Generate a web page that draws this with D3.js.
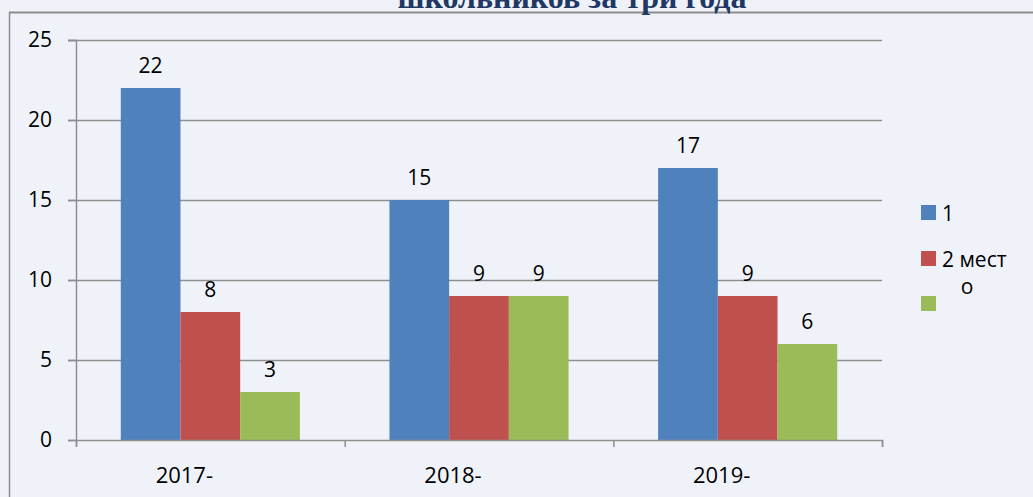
<!DOCTYPE html>
<html>
<head>
<meta charset="utf-8">
<script src="https://cdn.jsdelivr.net/npm/d3@7"></script>
<style>
  html, body { margin: 0; padding: 0; background: #eff3f9; }
  svg { display: block; }
</style>
</head>
<body>
<div id="chart"></div>
<script>
const years = ["2017-", "2018-", "2019-"];
const seriesNames = ["1", "2 мест", "3"];
const seriesColors = ["#4f81bd", "#c0504d", "#9bbb59"];
const place1 = [22, 15, 17];
const place2 = [8, 9, 9];
const place3 = [3, 9, 6];
const yTicks = [0, 5, 10, 15, 20, 25];
const titleText = "школьников за три года";

const width = 1033, height = 497;
const margin = {top: 40, right: 151, bottom: 57, left: 76};
const innerWidth = width - margin.left - margin.right;
const innerHeight = height - margin.top - margin.bottom;

const svg = d3.select("#chart")
    .append("svg")
    .attr("width", width)
    .attr("height", height);

svg.append("rect")
    .attr("width", width)
    .attr("height", height)
    .attr("fill", "#eff3f9");

// frame (top + left visible)
svg.append("line")
    .attr("x1", 9).attr("x2", width)
    .attr("y1", 12.5).attr("y2", 12.5)
    .attr("stroke", "#8c8c8c").attr("stroke-width", 2);
svg.append("line")
    .attr("x1", 9.5).attr("x2", 9.5)
    .attr("y1", 12).attr("y2", height)
    .attr("stroke", "#8c8c8c").attr("stroke-width", 1.5);

svg.append("text")
    .attr("x", 572)
    .attr("y", 8)
    .attr("text-anchor", "middle")
    .style("font-family", "'Liberation Serif', 'Times New Roman', serif")
    .style("font-weight", "bold")
    .style("font-size", "32px")
    .style("fill", "#1f3864")
    .text(titleText);

const g = svg.append("g")
    .attr("transform", `translate(${margin.left},${margin.top})`);

const data = years.map((y, i) => ({
    year: y,
    values: [place1[i], place2[i], place3[i]]
}));

const x0 = d3.scaleBand()
    .domain(years)
    .range([0, innerWidth])
    .paddingInner(0)
    .paddingOuter(0);

const x1 = d3.scaleBand()
    .domain([0, 1, 2])
    .range([0, x0.bandwidth()])
    .paddingInner(0)
    .paddingOuter(0.75);

const y = d3.scaleLinear()
    .domain([0, 25])
    .range([innerHeight, 0]);

// gridlines
g.selectAll(".grid")
    .data(yTicks.filter(t => t > 0))
    .enter()
    .append("line")
    .attr("x1", -8)
    .attr("x2", innerWidth)
    .attr("y1", d => Math.round(y(d)) + 0.5)
    .attr("y2", d => Math.round(y(d)) + 0.5)
    .attr("stroke", "#8e8e8e")
    .attr("stroke-width", 1.5);

// bars
const groups = g.selectAll(".year-group")
    .data(data)
    .enter()
    .append("g")
    .attr("transform", d => `translate(${x0(d.year)},0)`);

groups.selectAll("rect")
    .data(d => d.values.map((v, i) => ({v, i})))
    .enter()
    .append("rect")
    .attr("x", d => x1(d.i))
    .attr("y", d => y(d.v))
    .attr("width", x1.bandwidth())
    .attr("height", d => innerHeight - y(d.v))
    .attr("fill", d => seriesColors[d.i]);

groups.selectAll(".val")
    .data(d => d.values.map((v, i) => ({v, i})))
    .enter()
    .append("text")
    .attr("x", d => x1(d.i) + x1.bandwidth() / 2)
    .attr("y", d => y(d.v) - 15)
    .attr("text-anchor", "middle")
    .style("font-family", "'Open Sans', sans-serif")
    .style("font-size", "21px")
    .style("fill", "#000")
    .text(d => d.v);

// y axis
const yAxis = g.append("g")
    .call(d3.axisLeft(y).tickValues(yTicks).tickSize(8).tickPadding(16));
yAxis.select(".domain").attr("stroke", "#8e8e8e").attr("stroke-width", 1.5);
yAxis.selectAll(".tick line").attr("stroke", "#8e8e8e").attr("stroke-width", 1.5);
yAxis.selectAll("text")
    .style("font-family", "'Open Sans', sans-serif")
    .style("font-size", "21px")
    .style("fill", "#000");

// x axis
const xTickScale = d3.scaleLinear().domain([0, 3]).range([0, innerWidth]);
const xAxis = g.append("g")
    .attr("transform", `translate(0,${innerHeight})`)
    .call(d3.axisBottom(xTickScale).tickValues([0, 1, 2, 3]).tickSize(7).tickFormat(""));
xAxis.select(".domain").attr("stroke", "#8e8e8e").attr("stroke-width", 1.5);
xAxis.selectAll(".tick line").attr("stroke", "#8e8e8e").attr("stroke-width", 1.5);

g.selectAll(".xlabel")
    .data(years)
    .enter()
    .append("text")
    .attr("x", d => x0(d) + x0.bandwidth() / 2 - 26)
    .attr("y", innerHeight + 43)
    .attr("text-anchor", "middle")
    .style("font-family", "'Open Sans', sans-serif")
    .style("font-size", "22px")
    .style("fill", "#000")
    .text(d => d);

// legend
const legend = svg.append("g")
    .attr("transform", "translate(921,205)");

const legendRows = [0, 46, 91];
const legendItems = legend.selectAll(".legend-item")
    .data(seriesNames)
    .enter()
    .append("g")
    .attr("transform", (d, i) => `translate(0,${legendRows[i]})`);

legendItems.append("rect")
    .attr("width", 15)
    .attr("height", 15)
    .attr("fill", (d, i) => seriesColors[i]);

legendItems.filter((d, i) => i < 2)
    .append("text")
    .attr("x", 21)
    .attr("y", 16)
    .style("font-family", "'Open Sans', sans-serif")
    .style("font-size", "21px")
    .style("fill", "#000")
    .text(d => d);

// wrapped remainder of the second legend label
legend.append("text")
    .attr("x", 46)
    .attr("y", 89)
    .attr("text-anchor", "middle")
    .style("font-family", "'Open Sans', sans-serif")
    .style("font-size", "21px")
    .style("fill", "#000")
    .text("о");
</script>
</body>
</html>
